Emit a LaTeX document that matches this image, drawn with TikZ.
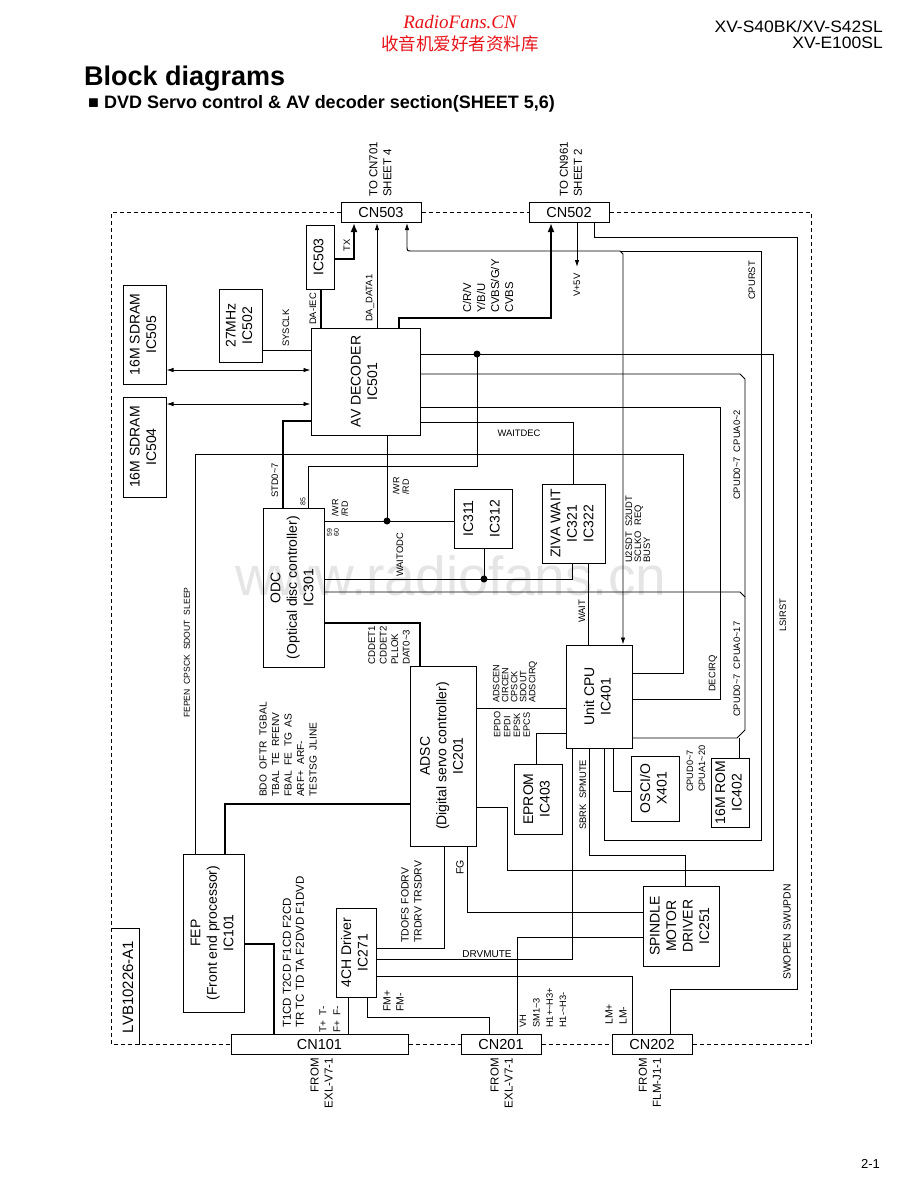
\documentclass[tikz,border=0pt]{standalone}
\usepackage{fontspec}
\setmainfont{Liberation Sans}
\newfontfamily\radiofont{Liberation Serif}
\newfontfamily\cjkfont{Noto Sans CJK SC}
\usepackage{graphicx}
\usetikzlibrary{arrows.meta}
\definecolor{hdrred}{RGB}{230,20,25}
% tilde as printed in the signal names
\newcommand{\tld}{\textasciitilde}
% rotated, centred text for the boxes
\newcommand{\vtext}[1]{\rotatebox{90}{\begin{tabular}{@{}c@{}}#1\end{tabular}}}

\begin{document}
\begin{tikzpicture}[x=1pt, y=-1pt,
    box/.style={draw, line width=1pt, inner sep=0pt, font=\fontsize{14}{16.5}\selectfont},
    conn/.style={draw, line width=1pt, inner sep=0pt, minimum width=80pt, minimum height=20pt, font=\fontsize{14.5}{16}\selectfont},
    wire/.style={line width=0.9pt},
    bus/.style={line width=2.4pt},
    lbl/.style={inner sep=0pt, font=\fontsize{9.4}{10}\selectfont},
    vlbl/.style={lbl, rotate=90, anchor=west, align=left},
    flbl/.style={lbl, rotate=90, anchor=east, align=right, font=\fontsize{11.5}{14}\selectfont},
    frame/.style={line width=0.9pt, dash pattern=on 4pt off 3pt},
    dot/.style={circle, fill, inner sep=0pt, minimum size=7pt},
    >={Latex[length=7pt,width=4.5pt]}
]
\useasboundingbox (0,0) rectangle (920,1191);

% watermark
\node[anchor=base west, inner sep=0pt, text=black!10, font=\fontsize{55}{60}\selectfont] (wm) at (235,595) {www.radiofans.cn};

% header
\node[anchor=base, inner sep=0pt, text=hdrred, font=\radiofont\itshape\fontsize{19}{20}\selectfont] (rf) at (460,28) {RadioFans.CN};
\node[anchor=base, inner sep=0pt, text=hdrred, font=\cjkfont\fontsize{17.5}{18}\selectfont] (rfcn) at (460,50) {收音机爱好者资料库};
\node[anchor=base east, inner sep=0pt, font=\fontsize{16.5}{18}\selectfont] (model1) at (883,32) {\scalebox{1.06}[1]{XV-S40BK/XV-S42SL}};
\node[anchor=base east, inner sep=0pt, font=\fontsize{16.5}{18}\selectfont] (model2) at (883,48) {\scalebox{1.06}[1]{XV-E100SL}};
\node[anchor=base west, inner sep=0pt, font=\bfseries\fontsize{27}{30}\selectfont] (title) at (84,85) {Block diagrams};
\node[anchor=base west, inner sep=0pt, font=\bfseries\fontsize{18}{20}\selectfont] (subtitle) at (88,108) {■ DVD Servo control \& AV decoder section(SHEET 5,6)};
\node[anchor=base east, inner sep=0pt, font=\fontsize{13}{14}\selectfont] (page) at (880,1168) {2-1};

% connectors
\node[conn] (cn503) at (381,212.5) {CN503};
\node[conn] (cn502) at (569,212.5) {CN502};
\node[conn, minimum width=177pt] (cn101) at (319.5,1044.5) {CN101};
\node[conn] (cn201) at (501,1044.5) {CN201};
\node[conn] (cn202) at (652,1044.5) {CN202};

% blocks
\node[box, minimum width=28pt, minimum height=64pt] (ic503) at (320,257) {\vtext{IC503}};
\node[box, minimum width=43pt, minimum height=73pt] (ic502) at (240.5,325.5) {\vtext{27MHz\\IC502}};
\node[box, minimum width=109pt, minimum height=107pt] (ic501) at (365.5,381.5) {\vtext{AV DECODER\\IC501}};
\node[box, minimum width=43pt, minimum height=99pt] (ic505) at (144.5,334.5) {\vtext{16M SDRAM\\IC505}};
\node[box, minimum width=43pt, minimum height=100pt] (ic504) at (144.5,447) {\vtext{16M SDRAM\\IC504}};
\node[box, minimum width=61pt, minimum height=159pt] (ic301) at (293.5,587.5) {\vtext{ODC\\(Optical disc controller)\\IC301}};
\node[box, minimum width=58pt, minimum height=59pt] (ic311) at (483,518.5) {\vtext{IC311\\[10pt]IC312}};
\node[box, minimum width=63pt, minimum height=79pt] (ic321) at (573.5,523.5) {\vtext{ZIVA WAIT\\IC321\\IC322}};
\node[box, minimum width=66pt, minimum height=103pt] (ic401) at (599,696.5) {\vtext{Unit CPU\\IC401}};
\node[box, minimum width=66pt, minimum height=180pt] (ic201) at (443,756) {\vtext{ADSC\\(Digital servo controller)\\IC201}};
\node[box, minimum width=48pt, minimum height=70pt] (ic403) at (538,799) {\vtext{EPROM\\IC403}};
\node[box, minimum width=48pt, minimum height=65pt] (x401) at (655,788.5) {\vtext{OSCI/O\\X401}};
\node[box, minimum width=38pt, minimum height=69pt] (ic402) at (730,792.5) {\vtext{16M ROM\\IC402}};
\node[box, minimum width=61pt, minimum height=158pt] (ic101) at (213.5,933) {\vtext{FEP\\(Front end processor)\\IC101}};
\node[box, minimum width=40pt, minimum height=89pt] (ic271) at (356,952.5) {\vtext{4CH Driver\\IC271}};
\node[box, minimum width=76pt, minimum height=80pt] (ic251) at (681,926) {\vtext{SPINDLE\\MOTOR\\DRIVER\\IC251}};

% board outline
\draw[frame] (cn503.west) -- (111,212.5) -- (111,1044.5) -- (cn101.west);
\draw[frame] (cn503.east) -- (cn502.west);
\draw[frame] (cn502.east) -- (811,212.5) -- (811,1044.5) -- (cn202.east);
\draw[frame] (cn101.east) -- (cn201.west);
\draw[frame] (cn201.east) -- (cn202.west);
\draw[wire] (111,928) -- (139,928) -- (139,1044.5);
\node[lbl, rotate=90, font=\fontsize{15}{16}\selectfont] (board) at (128,987) {LVB10226-A1};

% AV decoder: memory and clock
\draw[wire, <->] (ic505.east |- 0,370) -- (ic501.west |- 0,370);
\draw[wire, <->] (ic504.east |- 0,404) -- (ic501.west |- 0,404);
\draw[wire] (ic502.east |- 0,350) -- (ic501.west |- 0,350);
\draw[bus] (ic503.south -| 321,0) -- (ic501.north -| 321,0);
\draw[bus, -{Latex[length=9pt,width=7pt]}] (ic503.east |- 0,259) -| (cn503.south -| 354,0);
\draw[wire, ->] (ic501.north -| 377,0) -- (cn503.south -| 377,0);
\draw[bus, -{Latex[length=9pt,width=7pt]}] (ic501.north -| 399,0) -- (399,318) -- (551,318) -- (cn502.south -| 551,0);
\coordinate (v5) at (577,267);
\draw[wire, ->] (cn502.south -| 577,0) -- (v5);

% serial line between CN503 and unit CPU, CPU reset
\draw[wire, <->] (cn503.south -| 407,0) -- (407,246) .. controls (407,251) .. (412,251) -- (620,251) -- (623,254) -- (ic401.north -| 623,0);
\draw[wire] (620,251) -- (761,251) -- (761,840) -- (604,840) -- (ic401.south -| 604,0);
\draw[wire] (cn502.south -| 594,0) -- (594,237) -- (797,237) -- (797,989) -- (670,989) -- (cn202.north -| 670,0);

% AV decoder right side
\draw[wire] (ic501.east |- 0,354) -- (773,354) -- (773,870) -- (507,870) -- (507,807) -- (ic201.east |- 0,807);
\draw[wire] (ic501.east |- 0,374) -- (740,374) -- (745,379) -- (745,730) -- (737,738) -- (ic401.east |- 0,738);
\draw[wire] (739,738) -- (ic402.north -| 739,0);
\draw[wire] (ic301.east |- 0,592) -- (740,592) -- (745,597);
\draw[wire] (ic501.east |- 0,407) -- (720,407) -- (720,699) -- (ic401.east |- 0,699);
\draw[wire] (ic501.east |- 0,422) -- (573,422) -- (ic321.north -| 573,0);
\draw[wire] (ic101.north -| 195,0) -- (195,454) -- (683,454) -- (683,673) -- (ic401.east |- 0,673);

% ODC
\draw[bus] (ic301.north -| 283,0) -- (283,421) -- (ic501.west |- 0,421);
\draw[wire] (ic301.north -| 308,0) -- (308,466) -- (477,466) -- (477,354);
\node[dot] (d1) at (477,354) {};
\draw[wire] (ic301.east |- 0,521) -- (ic311.west |- 0,521);
\draw[wire] (ic501.south -| 387,0) -- (387,521);
\node[dot] (d2) at (387,521) {};
\draw[wire] (ic311.south -| 484,0) -- (484,579);
\node[dot] (d3) at (484,579) {};
\draw[wire] (ic301.east |- 0,579) -- (572,579) -- (ic321.south -| 572,0);
\draw[wire] (ic321.south -| 588,0) -- (ic401.north -| 588,0);
\draw[bus] (ic301.east |- 0,623) -- (420,623) -- (ic201.north -| 420,0);
\draw[bus] (ic101.north -| 225,0) -- (225,804) -- (ic201.west |- 0,804);

% unit CPU
\draw[wire] (ic201.east |- 0,708) -- (ic401.west |- 0,708);
\draw[wire] (ic403.north -| 536,0) -- (536,733) -- (ic401.west |- 0,733);
\draw[wire] (ic401.south -| 613,0) -- (613,791) -- (x401.west |- 0,791);
\draw[wire] (ic401.south -| 589,0) -- (589,855) -- (685,855) -- (ic251.north -| 685,0);
\draw[wire] (ic401.south -| 572,0) -- (572,959) -- (ic271.east |- 0,959);

% servo and motors
\draw[wire] (ic201.south -| 467,0) -- (467,912) -- (ic251.west |- 0,912);
\draw[wire] (ic251.west |- 0,937) -- (517,937) -- (cn201.north -| 517,0);
\draw[wire] (ic271.east |- 0,976) -- (632,976) -- (cn202.north -| 632,0);
\draw[wire] (ic271.south -| 367,0) -- (367,1017) -- (489,1017) -- (cn201.north -| 489,0);
\draw[wire] (ic271.east |- 0,948) -- (444,948) -- (ic201.south -| 444,0);
\draw[wire] (cn101.north -| 348,0) -- (ic271.south -| 348,0);
\draw[bus] (ic101.east |- 0,944) -- (274,944) -- (cn101.north -| 274,0);

% signal labels
\node[vlbl, font=\fontsize{11.5}{14}\selectfont] (to701) at (380.5,197) {TO CN701\\SHEET 4};
\node[vlbl, font=\fontsize{11.5}{14}\selectfont] (to961) at (571,197) {TO CN961\\SHEET 2};
\node[lbl, rotate=90] (ltx) at (347,245) {TX};
\node[vlbl] (ldaiec) at (313,325) {DA-IEC};
\node[vlbl] (lsysclk) at (286,347) {SYSCLK};
\node[vlbl] (ldata) at (370,322) {DA\_DATA1};
\node[vlbl, font=\fontsize{11.3}{14}\selectfont] (lvideo) at (488,313) {C/R/V\\Y/B/U\\CVBS/G/Y\\CVBS};
\node[vlbl] (lv5) at (577,297) {V+5V};
\node[vlbl] (lcpurst) at (752,300) {CPURST};
\node[vlbl] (lstd) at (275,498) {STD0\tld7};
\node[vlbl, font=\fontsize{7}{7}\selectfont] (l85) at (303,506) {85};
\node[vlbl, font=\fontsize{9}{9.5}\selectfont] (lwr1) at (340,517) {/WR\\/RD};
\node[vlbl, font=\fontsize{7}{7}\selectfont] (l5960) at (333,537) {59\\60};
\node[vlbl, font=\fontsize{9}{9.5}\selectfont] (lwr2) at (401,495) {/WR\\/RD};
\node[vlbl] (lwaitodc) at (400,577) {WAITODC};
\node[lbl] (lwaitdec) at (519,433) {WAITDEC};
\node[vlbl] (lwait) at (582,623) {WAIT};
\node[vlbl, font=\fontsize{9.4}{9}\selectfont] (lu2sdt) at (638,563) {U2SDT~~S2UDT\\SCLKO~~REQ\\BUSY};
\node[vlbl] (lbus1) at (737,500) {CPUD0\tld7~~CPUA0\tld2};
\node[vlbl] (lbus2) at (737,717) {CPUD0\tld7~~CPUA0\tld17};
\node[vlbl] (llsirst) at (783,632) {LSIRST};
\node[vlbl] (ldecirq) at (713,692) {DECIRQ};
\node[vlbl, font=\fontsize{8.6}{10}\selectfont] (lfepen) at (187,718) {FEPEN~~CPSCK~~SDOUT~~SLEEP};
\node[vlbl, font=\fontsize{9.7}{11.5}\selectfont] (lcddet) at (389,665) {CDDET1\\CDDET2\\PLLOK\\DAT0\tld3};
\node[vlbl, font=\fontsize{10.2}{12.5}\selectfont] (lbdo) at (288,797) {BDO~~OFTR~~TGBAL\\TBAL~~TE~~RFENV\\FBAL~~FE~~TG~~AS\\ARF+~~ARF-\\TESTSG~~JLINE};
\node[vlbl, font=\fontsize{9.2}{9}\selectfont] (ladscen) at (515,703) {ADSCEN\\CIRCEN\\CPSCK\\SDOUT\\ADSCIRQ};
\node[vlbl, font=\fontsize{9.2}{9.8}\selectfont] (lepdo) at (512,738) {EPDO\\EPDI\\EPSK\\EPCS};
\node[vlbl] (lsbrk) at (583,830) {SBRK~~SPMUTE};
\node[vlbl, font=\fontsize{9.2}{12}\selectfont] (lrom) at (696,792) {CPUD0\tld7\\CPUA1\tld20};
\node[vlbl, font=\fontsize{10.5}{12}\selectfont] (lfg) at (460,875) {FG};
\node[vlbl, font=\fontsize{10.5}{13}\selectfont] (ltdofs) at (411.5,943) {TDOFS FODRV\\TRDRV TRSDRV};
\node[lbl, font=\fontsize{10}{11}\selectfont] (ldrvmute) at (487,954) {DRVMUTE};
\node[vlbl, font=\fontsize{11.5}{13}\selectfont] (lt1cd) at (293.5,1028) {T1CD T2CD F1CD F2CD\\TR TC TD TA F2DVD F1DVD};
\node[vlbl, font=\fontsize{10}{14}\selectfont] (ltf) at (330,1033) {T+~~T-\\F+~~F-};
\node[vlbl, font=\fontsize{10.5}{13}\selectfont] (lfm) at (393.5,1012) {FM+\\FM-};
\node[vlbl, font=\fontsize{9.3}{13.3}\selectfont] (lvh) at (543,1028) {VH\\SM1\tld3\\H1+\tld H3+\\H1-\tld H3-};
\node[vlbl, font=\fontsize{10.5}{14}\selectfont] (llm) at (616,1025) {LM+\\LM-};
\node[vlbl, font=\fontsize{10.4}{12}\selectfont] (lswopen) at (787,980) {SWOPEN SWUPDN};
\node[flbl] (fr101) at (321.5,1058) {FROM\\EXL-V7-1};
\node[flbl] (fr201) at (501.5,1058) {FROM\\EXL-V7-1};
\node[flbl] (fr202) at (650,1058) {FROM\\FLM-J1-1};
\end{tikzpicture}
\end{document}
